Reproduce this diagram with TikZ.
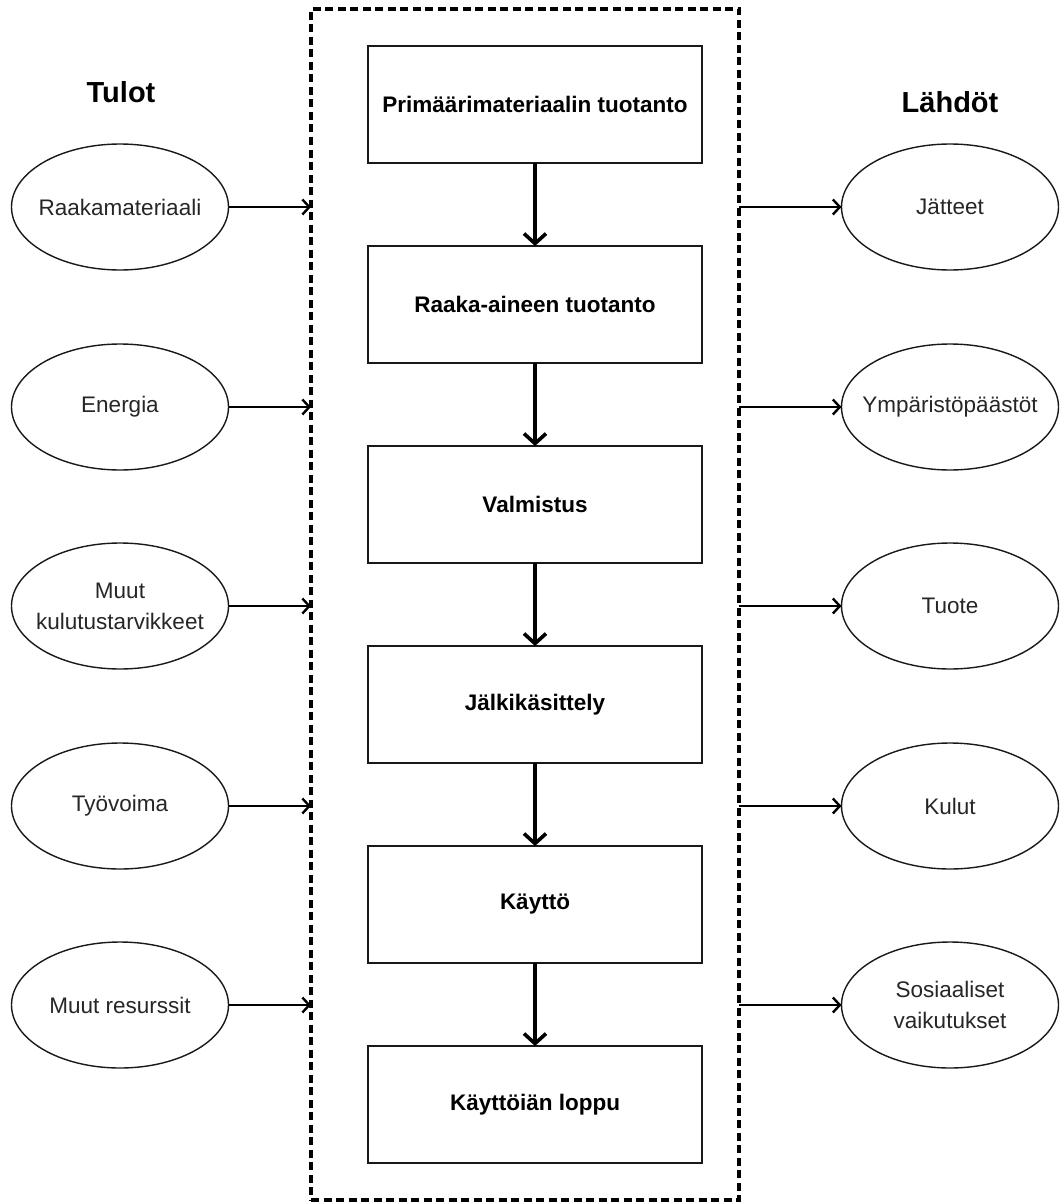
\documentclass[tikz,border=0pt]{standalone}
\usepackage{fontspec}
\setmainfont{Liberation Sans}
\usetikzlibrary{arrows.meta,shapes.geometric}
\begin{document}
\begin{tikzpicture}[x=1pt,y=-1pt,
  stagebox/.style={draw=black!90,line width=1.5pt,minimum width=334pt,minimum height=117pt,inner sep=0pt,outer sep=0pt,font=\fontsize{22.5}{27}\selectfont\bfseries},
  ioell/.style={draw=black!90,line width=1.4pt,ellipse,minimum width=217pt,minimum height=126pt,inner sep=0pt,outer sep=0pt},
  iotext/.style={align=center,text=black!85,inner sep=0pt,font=\fontsize{22.5}{31}\selectfont},
  title/.style={font=\fontsize{29}{34}\selectfont\bfseries},
  flow/.style={line width=4.2pt,-{Straight Barb[length=10pt,width=22pt,line width=3.6pt]}},
  side/.style={line width=2.6pt,-{Straight Barb[length=7pt,width=15pt,line width=2.4pt]}}
]
\useasboundingbox[fill=white] (0,0) rectangle (1061,1204);
% system boundary
\node[draw,line width=3.2pt,dash pattern=on 8pt off 4.5pt,minimum width=428pt,minimum height=1191pt,inner sep=0pt,outer sep=0pt] (sys) at (525,604.5) {};
% titles
\node[title] (tin) at (121,92) {Tulot};
\node[title] (tout) at (950,102) {Lähdöt};
% stages
\node[stagebox] (s1) at (535,104.5) {Primäärimateriaalin tuotanto};
\node[stagebox] (s2) at (535,304.5) {Raaka-aineen tuotanto};
\node[stagebox] (s3) at (535,504.5) {Valmistus};
\node[stagebox] (s4) at (535,704.5) {Jälkikäsittely};
\node[stagebox] (s5) at (535,904.5) {Käyttö};
\node[stagebox] (s6) at (535,1104.5) {Käyttöiän loppu};
\foreach \a/\b in {s1/s2,s2/s3,s3/s4,s4/s5,s5/s6}
  \draw[flow] (\a.south) -- (\b.north);
% inputs
\node[ioell] (i1) at (120,207) {};
\node[ioell] (i2) at (120,407) {};
\node[ioell] (i3) at (120,606) {};
\node[ioell] (i4) at (120,806) {};
\node[ioell] (i5) at (120,1005) {};
\node[iotext] (ti1) at (i1) {Raakamateriaali};
\node[iotext] (ti2) at (i2) {Energia};
\node[iotext] (ti3) at (i3) {Muut\\kulutustarvikkeet};
\node[iotext] (ti4) at (i4) {Työvoima};
\node[iotext] (ti5) at (i5) {Muut resurssit};
% outputs
\node[ioell] (o1) at (950,207) {};
\node[ioell] (o2) at (950,407) {};
\node[ioell] (o3) at (950,606) {};
\node[ioell] (o4) at (950,806) {};
\node[ioell] (o5) at (950,1005) {};
\node[iotext] (to1) at (o1) {Jätteet};
\node[iotext] (to2) at (o2) {Ympäristöpäästöt};
\node[iotext] (to3) at (o3) {Tuote};
\node[iotext] (to4) at (o4) {Kulut};
\node[iotext] (to5) at (o5) {Sosiaaliset\\vaikutukset};
\foreach \n in {1,...,5}{
  \draw[side] (i\n.east) -- (i\n.east -| sys.west);
  \draw[side] (o\n.west -| sys.east) -- (o\n.west);
}
\end{tikzpicture}
\end{document}
